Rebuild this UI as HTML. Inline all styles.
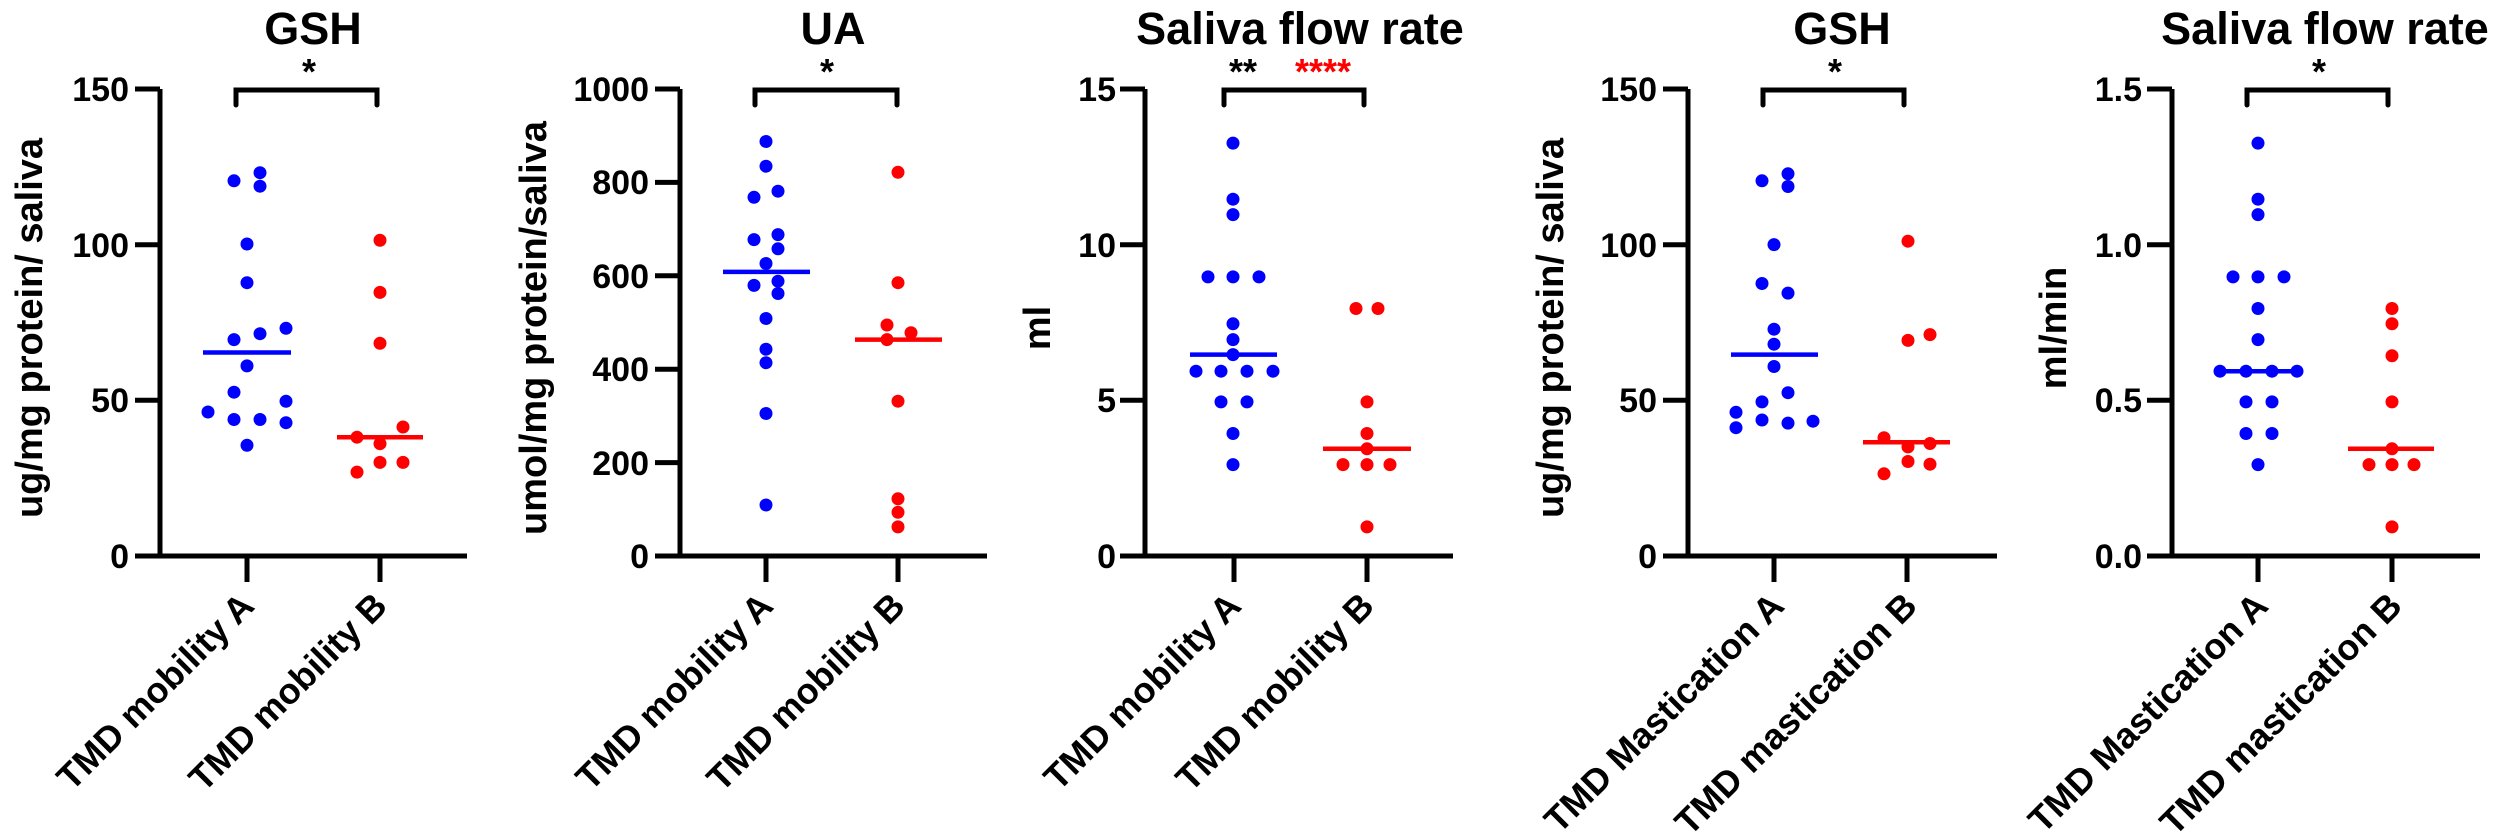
<!DOCTYPE html>
<html><head><meta charset="utf-8"><style>
html,body{margin:0;padding:0;background:#fff}
svg{display:block}
text{font-family:"Liberation Sans",Arial,sans-serif;font-weight:bold;fill:#000}
.t{font-size:45px;text-anchor:middle}
.tk{font-size:34px;text-anchor:end}
.yl{font-size:38px;text-anchor:middle}
.xl{font-size:36px;text-anchor:end}
.st{font-size:36px;text-anchor:middle}
.ax{stroke:#000;stroke-width:5;fill:none}
.b circle{fill:#0000ff}.r circle{fill:#ff0000}
</style></head><body>
<svg width="2500" height="837" viewBox="0 0 2500 837" xmlns="http://www.w3.org/2000/svg">
<!-- Panel 1 -->
<g>
<text class="t" x="313" y="44">GSH</text>
<path class="ax" d="M160 89V556M135 556H467M135 89H160M135 244.7H160M135 400.3H160M247 556V582M380 556V582"/>
<path class="ax" d="M236 105V90H377V105" stroke-linecap="round"/>
<text class="st" x="309" y="84">*</text>
<text class="tk" x="129" y="101">150</text><text class="tk" x="129" y="257">100</text><text class="tk" x="129" y="412">50</text><text class="tk" x="129" y="568">0</text>
<text class="yl" transform="translate(42,328) rotate(-90)">ug/mg protein/ saliva</text>
<text class="xl" transform="translate(256,608) rotate(-45)">TMD mobility A</text>
<text class="xl" transform="translate(389,608) rotate(-45)">TMD mobility B</text>
<g class="b"><circle cx="260" cy="172.7" r="6.5"/><circle cx="234" cy="180.8" r="6.5"/><circle cx="260" cy="186.2" r="6.5"/><circle cx="247" cy="244" r="6.5"/><circle cx="247" cy="282.7" r="6.5"/><circle cx="286" cy="328.3" r="6.5"/><circle cx="260" cy="333.7" r="6.5"/><circle cx="234" cy="339.6" r="6.5"/><circle cx="247" cy="365.9" r="6.5"/><circle cx="234" cy="392.2" r="6.5"/><circle cx="286" cy="401.3" r="6.5"/><circle cx="208" cy="412" r="6.5"/><circle cx="234" cy="419.5" r="6.5"/><circle cx="260" cy="419.5" r="6.5"/><circle cx="286" cy="422.7" r="6.5"/><circle cx="247" cy="445.3" r="6.5"/></g>
<line x1="203" y1="352.5" x2="291" y2="352.5" stroke="#0000ff" stroke-width="4.5"/>
<g class="r"><circle cx="380" cy="240.3" r="6.5"/><circle cx="380" cy="292.4" r="6.5"/><circle cx="380" cy="343.3" r="6.5"/><circle cx="403" cy="427" r="6.5"/><circle cx="357" cy="437.2" r="6.5"/><circle cx="380" cy="443.7" r="6.5"/><circle cx="380" cy="462.4" r="6.5"/><circle cx="403" cy="462.4" r="6.5"/><circle cx="357" cy="472.1" r="6.5"/></g>
<line x1="337" y1="437.2" x2="423" y2="437.2" stroke="#ff0000" stroke-width="4.5"/>
</g>
<!-- Panel 2 -->
<g>
<text class="t" x="833" y="44">UA</text>
<path class="ax" d="M680 89V556M655 556H987M655 89H680M655 182.4H680M655 275.8H680M655 369.2H680M655 462.6H680M766 556V582M898 556V582"/>
<path class="ax" d="M755 105V90H897V105" stroke-linecap="round"/>
<text class="st" x="827" y="84">*</text>
<text class="tk" x="649" y="101">1000</text><text class="tk" x="649" y="194">800</text><text class="tk" x="649" y="288">600</text><text class="tk" x="649" y="381">400</text><text class="tk" x="649" y="475">200</text><text class="tk" x="649" y="568">0</text>
<text class="yl" transform="translate(546,328) rotate(-90)">umol/mg protein/saliva</text>
<text class="xl" transform="translate(775,608) rotate(-45)">TMD mobility A</text>
<text class="xl" transform="translate(907,608) rotate(-45)">TMD mobility B</text>
<g class="b"><circle cx="766" cy="141.5" r="6.5"/><circle cx="766" cy="166.2" r="6.5"/><circle cx="778" cy="191.2" r="6.5"/><circle cx="754" cy="197.3" r="6.5"/><circle cx="778" cy="234.6" r="6.5"/><circle cx="754" cy="239.6" r="6.5"/><circle cx="778" cy="248.8" r="6.5"/><circle cx="766" cy="263.5" r="6.5"/><circle cx="778" cy="281.2" r="6.5"/><circle cx="754" cy="285.4" r="6.5"/><circle cx="778" cy="293.5" r="6.5"/><circle cx="766" cy="318.5" r="6.5"/><circle cx="766" cy="349.2" r="6.5"/><circle cx="766" cy="362.7" r="6.5"/><circle cx="766" cy="413.5" r="6.5"/><circle cx="766" cy="505" r="6.5"/></g>
<line x1="723" y1="271.9" x2="810" y2="271.9" stroke="#0000ff" stroke-width="4.5"/>
<g class="r"><circle cx="898" cy="172.3" r="6.5"/><circle cx="898" cy="282.7" r="6.5"/><circle cx="887" cy="325" r="6.5"/><circle cx="911" cy="332.7" r="6.5"/><circle cx="887" cy="339.6" r="6.5"/><circle cx="898" cy="401.2" r="6.5"/><circle cx="898" cy="498.8" r="6.5"/><circle cx="898" cy="512.3" r="6.5"/><circle cx="898" cy="526.9" r="6.5"/></g>
<line x1="855" y1="339.6" x2="942" y2="339.6" stroke="#ff0000" stroke-width="4.5"/>
</g>
<!-- Panel 3 -->
<g>
<text class="t" x="1300" y="44">Saliva flow rate</text>
<path class="ax" d="M1145 89V556M1120 556H1453M1120 89H1145M1120 244.7H1145M1120 400.3H1145M1234 556V582M1367 556V582"/>
<path class="ax" d="M1224 105V90H1364V105" stroke-linecap="round"/>
<text class="st" x="1243" y="84">**</text>
<text class="st" x="1323" y="84" style="fill:#ff0000">****</text>
<text class="tk" x="1116" y="101">15</text><text class="tk" x="1116" y="257">10</text><text class="tk" x="1116" y="412">5</text><text class="tk" x="1116" y="568">0</text>
<text class="yl" transform="translate(1050,328) rotate(-90)">ml</text>
<text class="xl" transform="translate(1243,608) rotate(-45)">TMD mobility A</text>
<text class="xl" transform="translate(1376,608) rotate(-45)">TMD mobility B</text>
<g class="b"><circle cx="1233" cy="143.1" r="6.5"/><circle cx="1233" cy="199.2" r="6.5"/><circle cx="1233" cy="214.6" r="6.5"/><circle cx="1208" cy="276.9" r="6.5"/><circle cx="1233" cy="276.9" r="6.5"/><circle cx="1259" cy="276.9" r="6.5"/><circle cx="1233" cy="323.8" r="6.5"/><circle cx="1233" cy="339.6" r="6.5"/><circle cx="1233" cy="354.6" r="6.5"/><circle cx="1196" cy="371.2" r="6.5"/><circle cx="1221" cy="371.2" r="6.5"/><circle cx="1247" cy="371.2" r="6.5"/><circle cx="1273" cy="371.2" r="6.5"/><circle cx="1221" cy="401.9" r="6.5"/><circle cx="1247" cy="401.9" r="6.5"/><circle cx="1233" cy="433.5" r="6.5"/><circle cx="1233" cy="464.6" r="6.5"/></g>
<line x1="1190" y1="354.6" x2="1277" y2="354.6" stroke="#0000ff" stroke-width="4.5"/>
<g class="r"><circle cx="1356" cy="308.5" r="6.5"/><circle cx="1378" cy="308.5" r="6.5"/><circle cx="1367" cy="401.9" r="6.5"/><circle cx="1367" cy="433.5" r="6.5"/><circle cx="1367" cy="448.8" r="6.5"/><circle cx="1343" cy="464.6" r="6.5"/><circle cx="1367" cy="464.6" r="6.5"/><circle cx="1390" cy="464.6" r="6.5"/><circle cx="1367" cy="526.9" r="6.5"/></g>
<line x1="1323" y1="448.8" x2="1411" y2="448.8" stroke="#ff0000" stroke-width="4.5"/>
</g>
<!-- Panel 4 -->
<g>
<text class="t" x="1842" y="44">GSH</text>
<path class="ax" d="M1688 89V556M1663 556H1997M1663 89H1688M1663 244.7H1688M1663 400.3H1688M1774 556V582M1907 556V582"/>
<path class="ax" d="M1763 105V90H1904V105" stroke-linecap="round"/>
<text class="st" x="1835" y="84">*</text>
<text class="tk" x="1657" y="101">150</text><text class="tk" x="1657" y="257">100</text><text class="tk" x="1657" y="412">50</text><text class="tk" x="1657" y="568">0</text>
<text class="yl" transform="translate(1563,328) rotate(-90)">ug/mg protein/ saliva</text>
<text class="xl" transform="translate(1786,608) rotate(-45)">TMD Mastication A</text>
<text class="xl" transform="translate(1919,608) rotate(-45)">TMD mastication B</text>
<g class="b"><circle cx="1788" cy="173.8" r="6.5"/><circle cx="1762" cy="180.8" r="6.5"/><circle cx="1788" cy="186.5" r="6.5"/><circle cx="1774" cy="244.6" r="6.5"/><circle cx="1762" cy="283.5" r="6.5"/><circle cx="1788" cy="293.1" r="6.5"/><circle cx="1774" cy="329.2" r="6.5"/><circle cx="1774" cy="344.2" r="6.5"/><circle cx="1774" cy="366.5" r="6.5"/><circle cx="1788" cy="392.7" r="6.5"/><circle cx="1762" cy="401.9" r="6.5"/><circle cx="1736" cy="412.3" r="6.5"/><circle cx="1762" cy="420" r="6.5"/><circle cx="1788" cy="423.1" r="6.5"/><circle cx="1813" cy="421.2" r="6.5"/><circle cx="1736" cy="427.7" r="6.5"/></g>
<line x1="1731" y1="354.6" x2="1818" y2="354.6" stroke="#0000ff" stroke-width="4.5"/>
<g class="r"><circle cx="1908" cy="241.2" r="6.5"/><circle cx="1930" cy="334.6" r="6.5"/><circle cx="1908" cy="340.4" r="6.5"/><circle cx="1884" cy="437.7" r="6.5"/><circle cx="1930" cy="443.5" r="6.5"/><circle cx="1908" cy="446.9" r="6.5"/><circle cx="1908" cy="461.5" r="6.5"/><circle cx="1930" cy="464.2" r="6.5"/><circle cx="1884" cy="473.8" r="6.5"/></g>
<line x1="1863" y1="442.3" x2="1950" y2="442.3" stroke="#ff0000" stroke-width="4.5"/>
</g>
<!-- Panel 5 -->
<g>
<text class="t" x="2325" y="44">Saliva flow rate</text>
<path class="ax" d="M2172 89V556M2147 556H2480M2147 89H2172M2147 244.7H2172M2147 400.3H2172M2258 556V582M2392 556V582"/>
<path class="ax" d="M2247 105V90H2388V105" stroke-linecap="round"/>
<text class="st" x="2319" y="84">*</text>
<text class="tk" x="2142" y="101">1.5</text><text class="tk" x="2142" y="257">1.0</text><text class="tk" x="2142" y="412">0.5</text><text class="tk" x="2142" y="568">0.0</text>
<text class="yl" transform="translate(2066,328) rotate(-90)">ml/min</text>
<text class="xl" transform="translate(2270,608) rotate(-45)">TMD Mastication A</text>
<text class="xl" transform="translate(2404,608) rotate(-45)">TMD mastication B</text>
<g class="b"><circle cx="2258" cy="143.1" r="6.5"/><circle cx="2258" cy="199.2" r="6.5"/><circle cx="2258" cy="214.6" r="6.5"/><circle cx="2233" cy="276.9" r="6.5"/><circle cx="2258" cy="276.9" r="6.5"/><circle cx="2284" cy="276.9" r="6.5"/><circle cx="2258" cy="308.5" r="6.5"/><circle cx="2258" cy="339.6" r="6.5"/><circle cx="2220" cy="371.2" r="6.5"/><circle cx="2246" cy="371.2" r="6.5"/><circle cx="2272" cy="371.2" r="6.5"/><circle cx="2297" cy="371.2" r="6.5"/><circle cx="2246" cy="401.9" r="6.5"/><circle cx="2272" cy="401.9" r="6.5"/><circle cx="2246" cy="433.5" r="6.5"/><circle cx="2272" cy="433.5" r="6.5"/><circle cx="2258" cy="464.6" r="6.5"/></g>
<line x1="2215" y1="371.2" x2="2302" y2="371.2" stroke="#0000ff" stroke-width="4.5"/>
<g class="r"><circle cx="2392" cy="308.5" r="6.5"/><circle cx="2392" cy="323.8" r="6.5"/><circle cx="2392" cy="355.8" r="6.5"/><circle cx="2392" cy="401.9" r="6.5"/><circle cx="2392" cy="448.8" r="6.5"/><circle cx="2369" cy="464.6" r="6.5"/><circle cx="2392" cy="464.6" r="6.5"/><circle cx="2414" cy="464.6" r="6.5"/><circle cx="2392" cy="526.9" r="6.5"/></g>
<line x1="2348" y1="448.8" x2="2434" y2="448.8" stroke="#ff0000" stroke-width="4.5"/>
</g>
</svg>
</body></html>
